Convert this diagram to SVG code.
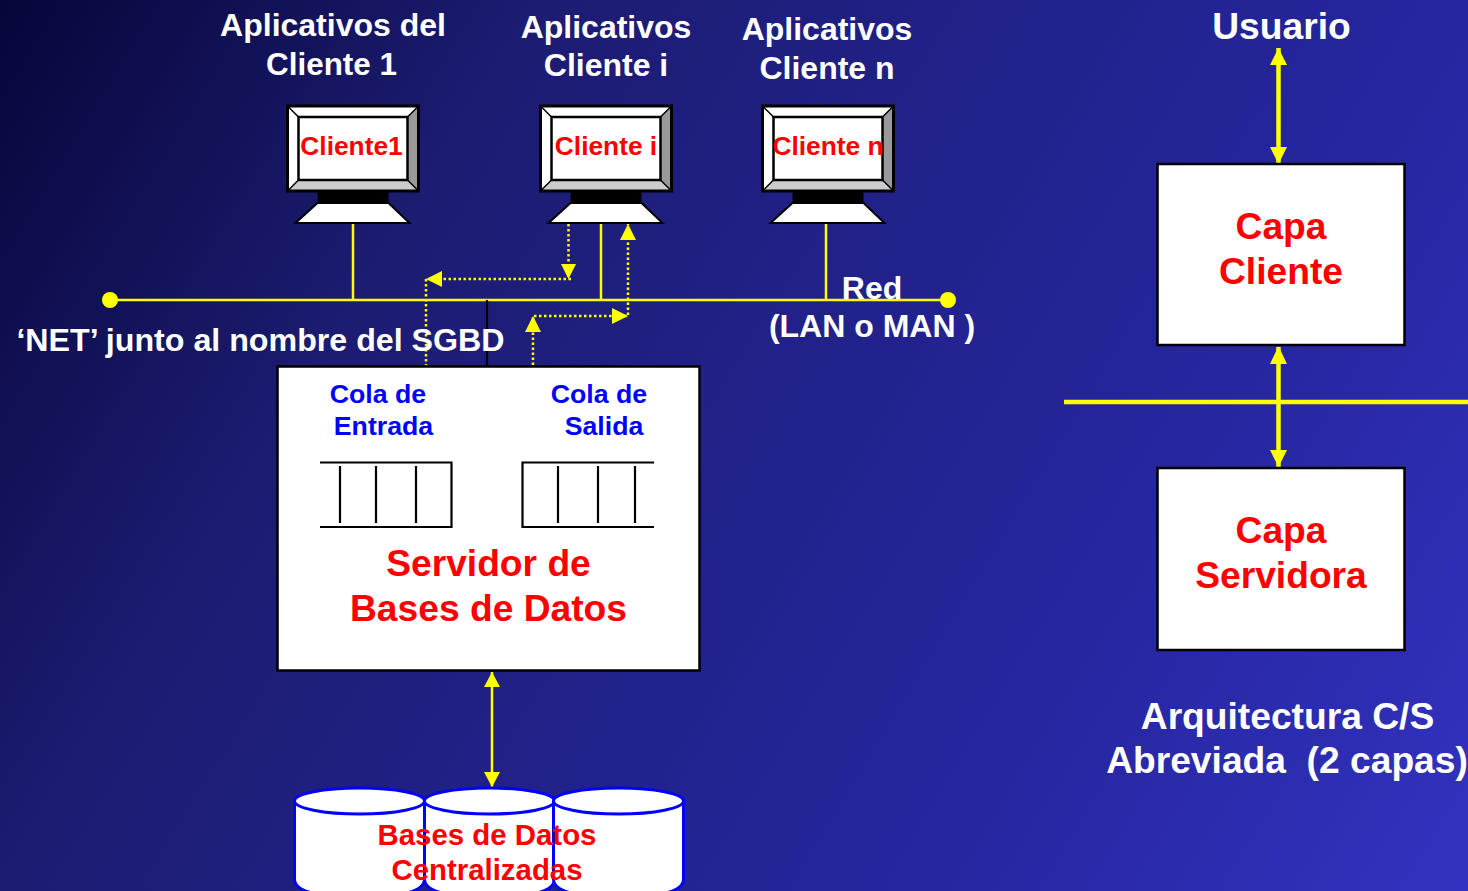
<svg xmlns="http://www.w3.org/2000/svg" width="1468" height="891" viewBox="0 0 1468 891">
<style>
text{font-family:"Liberation Sans",Arial,sans-serif;font-weight:bold;text-anchor:middle}
.w{fill:#fff;font-size:32px}
.l{fill:#fff;font-size:37.200px}
.r{fill:#f00;font-size:37.200px}
.m{fill:#f00;font-size:26.300px}
.s{fill:#f00;font-size:29.400px}
.b{fill:#00f;font-size:26.700px}
.box{fill:#fff;stroke:#000;stroke-width:2.500}
.y{stroke:#ff0;fill:none;stroke-width:2.500}
.d{stroke:#ff0;fill:none;stroke-width:2.500;stroke-dasharray:2.500 2.500}
.t{fill:#ff0}
.k{stroke:#000;stroke-width:2.200;fill:none}
.c{fill:#fff;stroke:#00f;stroke-width:3}
.h{stroke:#ff0;stroke-width:4.500;fill:none}
</style>
<defs>
<linearGradient id="bg" gradientUnits="userSpaceOnUse" x1="0" y1="0" x2="1468" y2="891">
<stop offset="0" stop-color="#06063a"/><stop offset="0.27" stop-color="#1c1c72"/><stop offset="0.73" stop-color="#2626a0"/><stop offset="1" stop-color="#3232c0"/>
</linearGradient>
<g id="pc">
<rect x="0" y="0" width="131" height="85" fill="#fff"/>
<polygon points="131,0 120,11 120,74 131,85" fill="#999"/>
<polygon points="0,85 11,74 120,74 131,85" fill="#ccc"/>
<path d="M0 0L11 11M131 0L120 11M0 85L11 74M131 85L120 74" stroke="#000" stroke-width="1.500"/>
<rect x="0" y="0" width="131" height="85" fill="none" stroke="#000" stroke-width="3"/>
<rect x="11" y="11" width="109" height="63" fill="#fff" stroke="#000" stroke-width="2.500"/>
<rect x="30" y="85" width="71" height="12" fill="#000"/>
<polygon points="30,97 101,97 122,117 8,117" fill="#fff" stroke="#000" stroke-width="2"/>
</g>
<g id="cyl">
<path d="M0 14V92Q0 110 65 110T130 92V14" class="c"/>
<ellipse cx="65" cy="14" rx="65" ry="13" class="c"/>
</g>
</defs>
<rect id="background" width="1468" height="891" fill="url(#bg)"/>

<g id="connectors">
<line x1="110" y1="300" x2="948" y2="300" class="y"/>
<circle cx="110" cy="300" r="8" class="t"/>
<circle cx="948" cy="300" r="8" class="t"/>
<line x1="353" y1="224" x2="353" y2="300" class="y"/>
<line x1="601" y1="224" x2="601" y2="300" class="y"/>
<line x1="826" y1="224" x2="826" y2="300" class="y"/>
<line x1="487" y1="300" x2="487" y2="366" class="k"/>
<path d="M568.500 224V279" class="d"/><polygon class="t" points="561,264 576,264 568.500,279"/>
<path d="M571 279H426V365" class="d"/><polygon class="t" points="426,279 442,271 442,287"/>
<path d="M533 365V316H628V224" class="d"/>
<polygon class="t" points="525,332 541,332 533,316"/>
<polygon class="t" points="628,316 612,308 612,324"/>
<polygon class="t" points="620,240 636,240 628,224"/>
<line x1="492" y1="672" x2="492" y2="787" class="y"/>
<polygon class="t" points="484,687 500,687 492,672"/>
<polygon class="t" points="484,772 500,772 492,787"/>
<line x1="1064" y1="402" x2="1468" y2="402" class="h"/>
<line x1="1278.500" y1="48" x2="1278.500" y2="163" class="h"/>
<polygon class="t" points="1270,65 1287,65 1278.500,48"/>
<polygon class="t" points="1270,147 1287,147 1278.500,164"/>
<line x1="1278.500" y1="347" x2="1278.500" y2="467" class="h"/>
<polygon class="t" points="1270,364 1287,364 1278.500,346"/>
<polygon class="t" points="1270,450 1287,450 1278.500,467"/>
</g>

<g id="cliente1"><use href="#pc" x="287.500" y="106"/><text x="351.500" y="155" class="m">Cliente1</text></g>
<g id="clientei"><use href="#pc" x="540.500" y="106"/><text x="606" y="155" class="m">Cliente i</text></g>
<g id="clienten"><use href="#pc" x="762.500" y="106"/><text x="828" y="155" class="m">Cliente n</text></g>

<g id="labels">
<text x="333" y="36" class="w">Aplicativos del</text><text x="331.500" y="74.500" class="w" style="font-size:31.400px">Cliente 1</text>
<text x="606" y="38" class="w">Aplicativos</text><text x="606" y="76" class="w">Cliente i</text>
<text x="827" y="40" class="w">Aplicativos</text><text x="827" y="79" class="w">Cliente n</text>
<text x="1281.500" y="39" class="l">Usuario</text>
<text x="872" y="299" class="w">Red</text>
<text x="872" y="337" class="w">(LAN o MAN )</text>
<text x="260.500" y="351" class="w" style="font-size:32.200px">‘NET’ junto al nombre del SGBD</text>
<text x="1287.500" y="729" class="l">Arquitectura C/S</text>
<text x="1287" y="773" class="l" style="white-space:pre">Abreviada  (2 capas)</text>
</g>

<g id="servidor">
<rect x="277.500" y="366.500" width="422" height="304" class="box"/>
<text x="378" y="403" class="b">Cola de</text><text x="383.500" y="435" class="b">Entrada</text>
<text x="599" y="403" class="b">Cola de</text><text x="604" y="435" class="b">Salida</text>
<path d="M320 462.500H451.500V527H320M340 466V523M376 466V523M416 466V523" class="k"/>
<path d="M654 462.500H522.500V527H654M558 466V523M598 466V523M635 466V523" class="k"/>
<text x="488.500" y="576" class="r">Servidor de</text>
<text x="488.500" y="621" class="r">Bases de Datos</text>
</g>

<g id="bases">
<use href="#cyl" x="294.500" y="787"/><use href="#cyl" x="424.500" y="787"/><use href="#cyl" x="553.500" y="787"/>
<text x="487" y="845" class="s">Bases de Datos</text>
<text x="487" y="880" class="s">Centralizadas</text>
</g>

<g id="capa-cliente">
<rect x="1157.500" y="164" width="247" height="181" class="box"/>
<text x="1281" y="239" class="r">Capa</text><text x="1281" y="284" class="r">Cliente</text>
</g>
<g id="capa-servidora">
<rect x="1157.500" y="468" width="247" height="182" class="box"/>
<text x="1281" y="543" class="r">Capa</text><text x="1281" y="588" class="r">Servidora</text>
</g>
</svg>
